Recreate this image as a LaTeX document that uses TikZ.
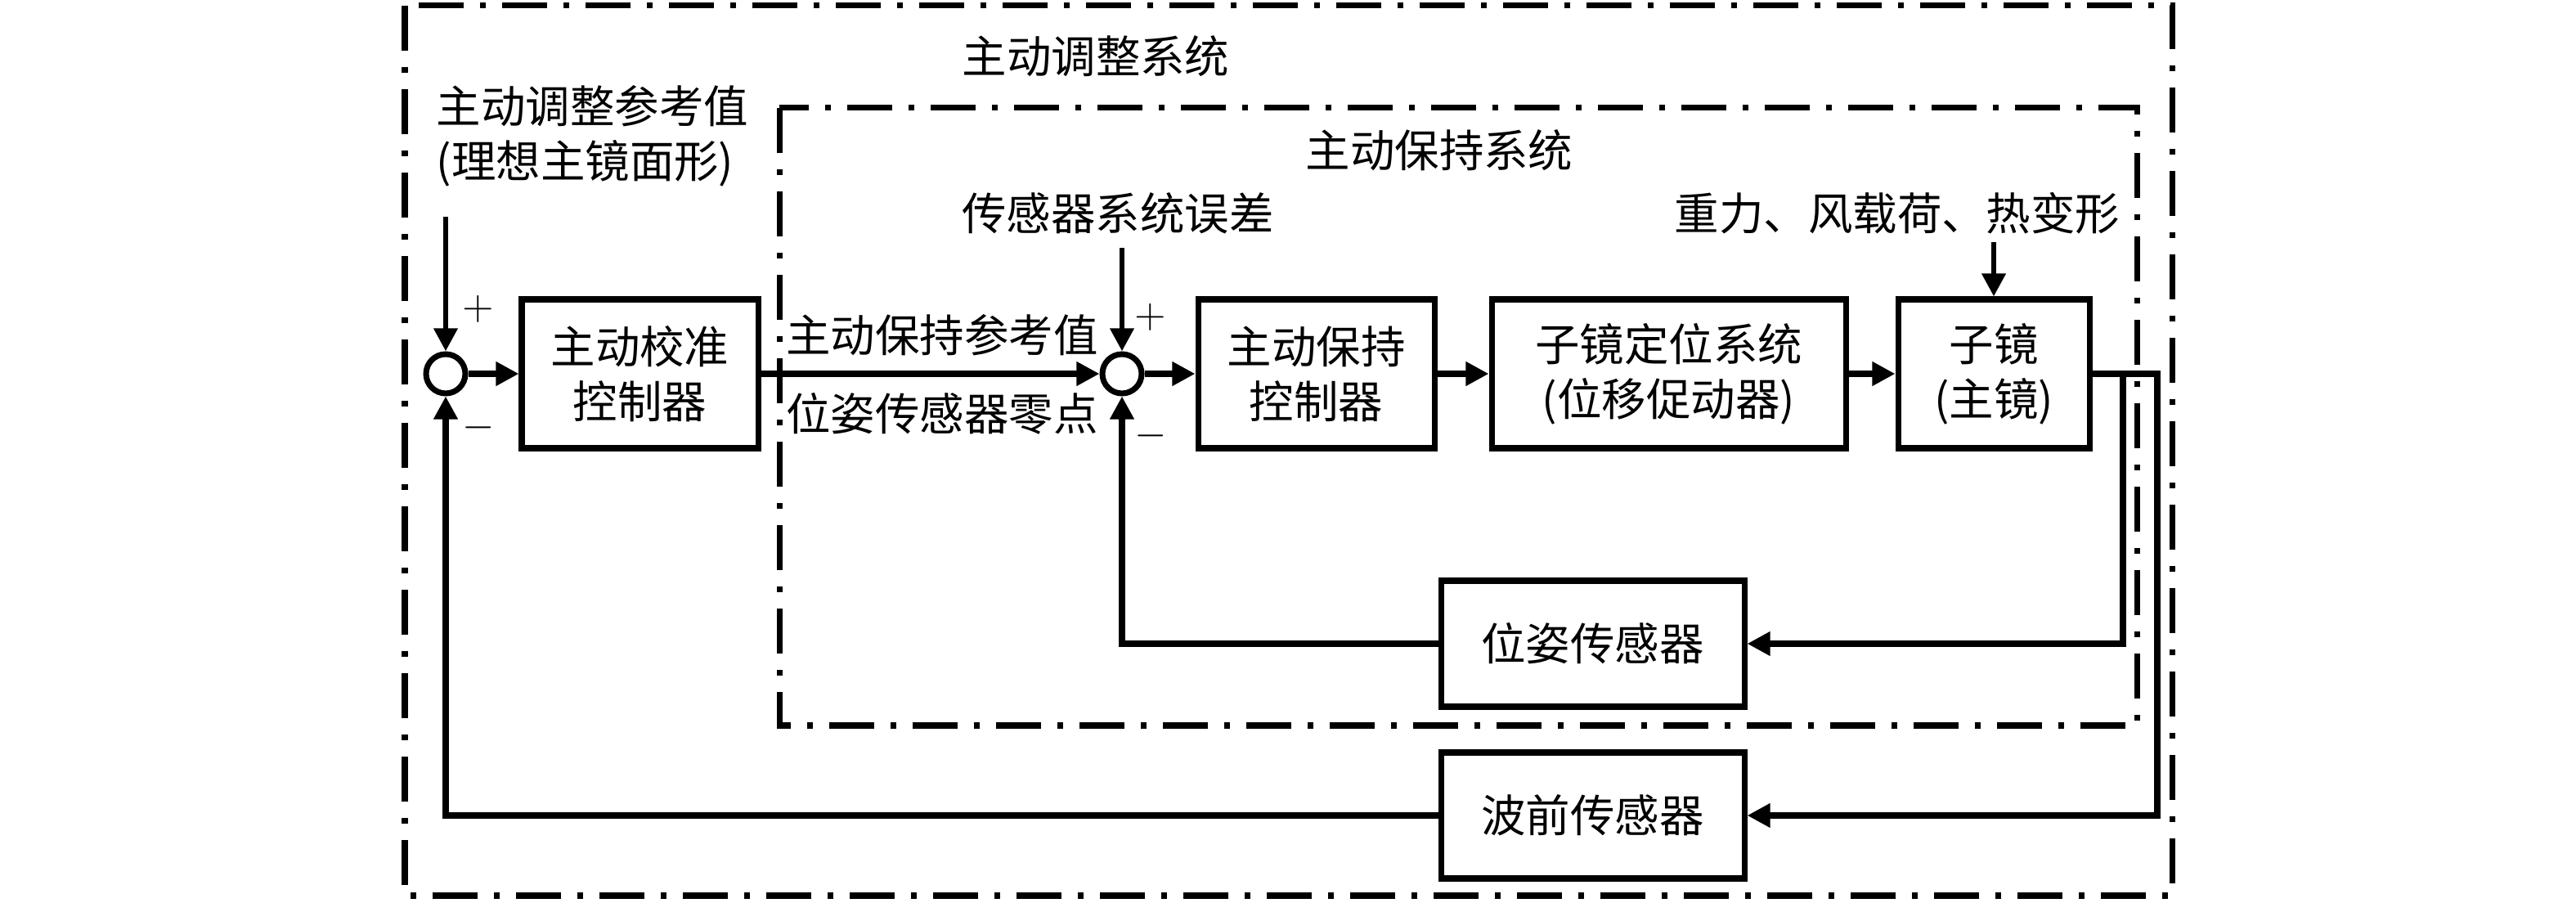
\documentclass[tikz,border=0pt]{standalone}
\usepackage{fontspec}
\setmainfont{Noto Sans CJK SC}
\usetikzlibrary{arrows.meta,positioning}
\begin{document}
\begin{tikzpicture}[
		every node/.style={font=\fontsize{15.5pt}{19pt}\selectfont},
		blk/.style={draw, line width=2pt, minimum height=1.82cm, inner sep=0pt, align=center},
		sumnode/.style={circle, draw, line width=2pt, minimum size=0.48cm, inner sep=0pt},
		sig/.style={line width=2.5pt, -{Triangle[length=8pt,width=8pt]}},
		inp/.style={line width=1.9pt, -{Triangle[length=8pt,width=8pt]}},
		sgn/.style={font=\fontsize{14pt}{16pt}\selectfont, inner sep=0pt},
		frame/.style={line width=2pt, dash pattern=on 0.55cm off 0.2cm on 0.07cm off 0.2cm}
		]
	\useasboundingbox (0,0) rectangle (31.5,-11.04);
	\draw[frame] (4.95,-0.07) rectangle (26.56,-10.95);
	\draw[frame] (9.53,-1.32) rectangle (26.13,-8.87);

	\node[sumnode] (sum1) at (5.45,-4.57) {};
	\node[blk, minimum width=2.89cm] (cal) at (7.825,-4.57) {主动校准\\控制器};
	\node[sumnode] (sum2) at (13.72,-4.57) {};
	\node[blk, minimum width=2.89cm] (hold) at (16.095,-4.57) {主动保持\\控制器};
	\node[blk, minimum width=4.33cm] (act) at (20.405,-4.57) {子镜定位系统\\(位移促动器)};
	\node[blk, minimum width=2.34cm] (mirror) at (24.38,-4.57) {子镜\\(主镜)};
	\node[blk, minimum width=3.71cm, minimum height=1.54cm] (pose) at (19.475,-7.87) {位姿传感器};
	\node[blk, minimum width=3.71cm, minimum height=1.54cm] (wave) at (19.475,-9.97) {波前传感器};

	\node (outerlbl) at (13.40,-0.69) {主动调整系统};
	\node (innerlbl) at (17.60,-1.84) {主动保持系统};
	\node[align=left, anchor=west, inner sep=0pt] (reflbl) at (5.33,-1.66) {主动调整参考值\\(理想主镜面形)};
	\node (errlbl) at (13.67,-2.61) {传感器系统误差};
	\node (distlbl) at (23.20,-2.61) {重力、风载荷、热变形};
	\node (holdref) at (11.52,-4.10) {主动保持参考值};
	\node (zerolbl) at (11.52,-5.06) {位姿传感器零点};

	\node[sgn] (plus1) at (5.85,-3.78) {$+$};
	\node[sgn] (minus1) at (5.85,-5.23) {$-$};
	\node[sgn] (plus2) at (14.07,-3.88) {$+$};
	\node[sgn] (minus2) at (14.07,-5.33) {$-$};

	\coordinate (in1) at (5.45,-2.65);
	\coordinate (in2) at (13.72,-3.03);
	\coordinate (in3) at (24.38,-2.96);
	\coordinate (tap1) at (25.96,-4.57);
	\coordinate (tap2) at (26.38,-4.57);

	\draw[inp] (in1) -- (sum1);
	\draw[inp] (in2) -- (sum2);
	\draw[inp] (in3) -- (mirror);
	\draw[sig] (sum1) -- (cal);
	\draw[sig] (cal) -- (sum2);
	\draw[sig] (sum2) -- (hold);
	\draw[sig] (hold) -- (act);
	\draw[sig] (act) -- (mirror);
	\draw[sig] (mirror) -- (tap2) |- (wave);
	\draw[sig] (tap1) |- (pose);
	\draw[sig] (pose) -| (sum2);
	\draw[sig] (wave) -| (sum1);
\end{tikzpicture}
\end{document}
